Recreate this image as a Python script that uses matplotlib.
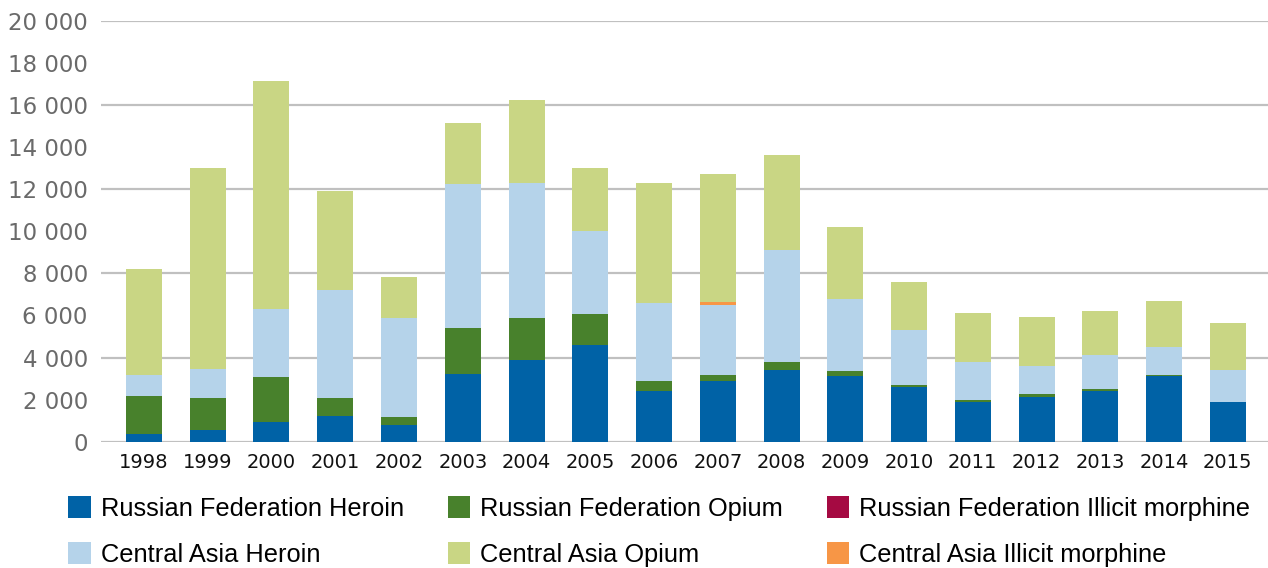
import numpy as np
import matplotlib
matplotlib.use("Agg")
import matplotlib.pyplot as plt
from matplotlib.ticker import FuncFormatter

# Seizures by year (kg)
years = ["1998", "1999", "2000", "2001", "2002", "2003", "2004", "2005", "2006",
         "2007", "2008", "2009", "2010", "2011", "2012", "2013", "2014", "2015"]
rf_heroin = [360, 550, 930, 1210, 790, 3210, 3900, 4600, 2400,
             2880, 3400, 3120, 2600, 1880, 2120, 2400, 3120, 1880]
rf_opium = [1810, 1520, 2140, 860, 380, 2190, 1980, 1470, 480,
            290, 380, 240, 90, 100, 140, 100, 50, 0]
rf_morphine = [0] * 18
ca_heroin = [1000, 1380, 3240, 5160, 4730, 6870, 6400, 3950, 3710,
             3330, 5350, 3430, 2620, 1820, 1350, 1600, 1330, 1520]
ca_morphine = [0, 0, 0, 0, 0, 0, 0, 0, 0,
               140, 0, 0, 0, 0, 0, 0, 0, 0]
ca_opium = [5050, 9570, 10860, 4700, 1940, 2890, 3980, 3000, 5720,
            6100, 4510, 3430, 2290, 2320, 2320, 2120, 2190, 2240]

series = [
    ("Russian Federation Heroin", rf_heroin, "#0062a6"),
    ("Russian Federation Opium", rf_opium, "#48812c"),
    ("Russian Federation Illicit morphine", rf_morphine, "#a50a42"),
    ("Central Asia Heroin", ca_heroin, "#b5d3ea"),
    ("Central Asia Illicit morphine", ca_morphine, "#f79646"),
    ("Central Asia Opium", ca_opium, "#c9d684"),
]

fig = plt.figure(figsize=(12.68, 5.68), dpi=100)
ax = fig.add_axes([101 / 1268, 1 - 441.7 / 568, 1 - 101 / 1268, (441.7 - 21) / 568])

x = np.arange(len(years))
bottom = np.zeros(len(years))
handles = {}
for name, vals, col in series:
    vals = np.array(vals, dtype=float)
    b = ax.bar(x, vals, 0.565, bottom=bottom, color=col, label=name, zorder=3)
    handles[name] = b
    bottom += vals

ax.set_ylim(0, 20000)
ax.set_xlim(-0.674, 17.63)
ax.set_yticks(np.arange(0, 20001, 2000))
ax.yaxis.set_major_formatter(FuncFormatter(lambda v, p: f"{int(v):,}".replace(",", " ")))
for g in range(0, 20001, 4000):
    ax.axhline(g, color="#c0c0c0", lw=1.6, zorder=1)
ax.set_xticks(x)
ax.set_xticklabels(years)
ax.tick_params(axis="y", length=0, pad=9.5, labelsize=16.5, labelcolor="#6a6a6a")
ax.tick_params(axis="x", length=0, pad=8, labelsize=14, labelcolor="#111111")
for s in ax.spines.values():
    s.set_visible(False)

order = ["Russian Federation Heroin", "Central Asia Heroin",
         "Russian Federation Opium", "Central Asia Opium",
         "Russian Federation Illicit morphine", "Central Asia Illicit morphine"]
fig.legend([handles[n] for n in order], order, ncol=3, loc="upper left",
           bbox_to_anchor=(58 / 1268, 1 - 486 / 568), frameon=False,
           prop={"family": "Liberation Sans", "size": 18.3},
           handlelength=0.88, handleheight=0.92, handletextpad=0.4,
           columnspacing=1.72, labelspacing=0.85, borderaxespad=0)

fig.savefig("out.png", dpi=100)
